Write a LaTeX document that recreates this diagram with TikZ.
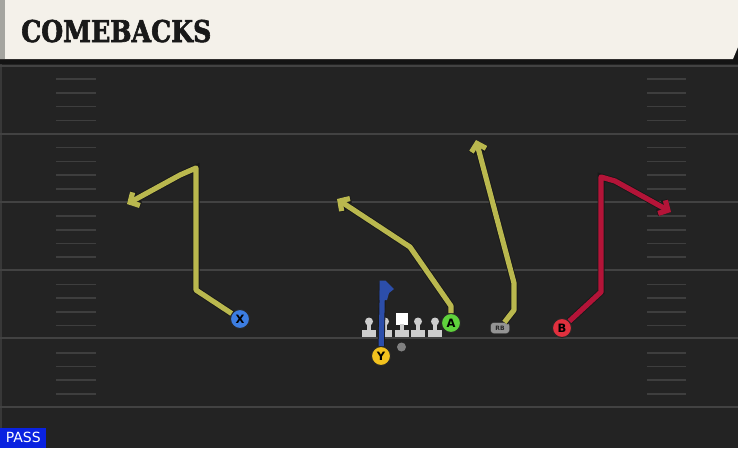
\documentclass[tikz,border=0pt]{standalone}
\usepackage{fontspec}
\setmainfont{DejaVu Sans}
\newfontfamily\titlefont{DejaVu Serif}[FakeStretch=0.84, FakeBold=2]
\usepackage{xcolor}
\usetikzlibrary{arrows.meta, positioning}

\definecolor{fieldbg}{RGB}{35,35,35}
\definecolor{fieldband}{RGB}{20,20,20}
\definecolor{yardgrey}{RGB}{66,66,66}
\definecolor{hashgrey}{RGB}{62,62,62}
\definecolor{headcream}{RGB}{244,241,234}
\definecolor{headgrey}{RGB}{165,165,160}
\definecolor{passblue}{RGB}{10,34,224}
\definecolor{routeyellow}{RGB}{186,184,78}
\definecolor{routered}{RGB}{180,20,56}
\definecolor{routeblue}{RGB}{44,78,170}
\definecolor{xblue}{RGB}{60,125,225}
\definecolor{agreen}{RGB}{95,210,60}
\definecolor{bred}{RGB}{225,48,62}
\definecolor{yyellow}{RGB}{242,194,30}
\definecolor{linegrey}{RGB}{205,205,205}

\begin{document}
\begin{tikzpicture}[x=1pt, y=-1pt,
        player/.style={circle, draw=black!85, line width=1pt, minimum size=19pt, inner sep=0pt, font=\bfseries\fontsize{11.5}{11.5}\selectfont},
        route/.style={line width=5.2pt, line join=round, draw=#1, preaction={draw=black!90, line width=7pt}, -{Straight Barb[length=7pt, width=15pt]}},
        yardline/.style={draw=yardgrey, line width=2pt},
        hash/.style={draw=hashgrey, line width=1.6pt},
        passbox/.style={fill=passblue, text=white, minimum width=46pt, minimum height=20pt, inner sep=0pt, font=\fontsize{14}{14}\selectfont}
        ]
        \useasboundingbox (0,0) rectangle (738,448);

        % field
        \fill[fieldband] (0,0) rectangle (738,64);
        \fill[fieldbg] (0,64) rectangle (738,448);
        \fill[black!78] (0,64) rectangle (2,448);
        \foreach \yy in {65.5,133.5,201.5,269.5,338,407}
            \draw[yardline] (0,\yy) -- (738,\yy);
        \foreach \k in {0,...,4}
            \foreach \j in {1,...,4} {
                \pgfmathsetmacro{\hy}{65.5+68.4*\k+13.7*\j}
                \draw[hash] (56,\hy) -- (96,\hy);
                \draw[hash] (647,\hy) -- (686,\hy);
            }

        % header
        \fill[headcream] (0,0) -- (738,0) -- (738,47) -- (733,59) -- (0,59) -- cycle;
        \fill[headgrey] (0,0) rectangle (5,59);
        \node[anchor=base west, inner sep=0pt, font=\titlefont\bfseries\fontsize{30}{30}\selectfont, text=black!90] (title) at (21,42) {COMEBACKS};

        % line
        \foreach \lx in {369,385,418,435} {
            \fill[linegrey] (\lx,321.5) circle (4);
            \fill[linegrey] (\lx-2.2,321) rectangle (\lx+2.2,331);
            \fill[linegrey] (\lx-7,330) rectangle (\lx+7,336.5);
        }
        \fill[white] (396,313) rectangle (408,325);
        \fill[linegrey] (399.8,324) rectangle (404.2,331);
        \fill[linegrey] (395,330) rectangle (409,336.5);
        \fill[black!50] (401.5,347) circle (4.5);

        % players
        \node[player, fill=xblue] (x) at (240,319) {X};
        \node[player, fill=agreen] (a) at (451,323) {A};
        \node[player, fill=bred] (b) at (562,328) {B};
        \node[player, fill=yyellow] (y) at (381,356) {Y};
        \node[draw=black!85, fill=black!42, rounded corners=3pt, minimum width=19pt, minimum height=11pt, inner sep=0pt, font=\bfseries\fontsize{6}{6}\selectfont, text=black!85] (rb) at (500,328) {RB};

        \coordinate (xend) at (127,204);
        \coordinate (aend) at (337,199);
        \coordinate (rbend) at (476,140);
        \coordinate (bend) at (671,212);
        \coordinate (yflag) at (382.5,283);

        % routes
        \draw[route=routeyellow] (x) -- (196,290) -- (196,168) -- (180,175) -- (xend);
        \draw[route=routeyellow] (a) -- (451,306) -- (410,247) -- (aend);
        \draw[route=routeyellow] (rb) -- (514,310) -- (514,283) -- (rbend);
        \draw[route=routered] (b) -- (601,292) -- (601,177) -- (615,181) -- (bend);
        \draw[route=routeblue, -] (y) -- (yflag);
        \fill[routeblue] (379.5,280.5) -- (385.5,280.5) -- (394,289) -- (389,293) -- (387,300) -- (379.5,300) -- cycle;

        \node[passbox, anchor=south west] (pass) at (0,448) {PASS};

    \end{tikzpicture}
\end{document}
